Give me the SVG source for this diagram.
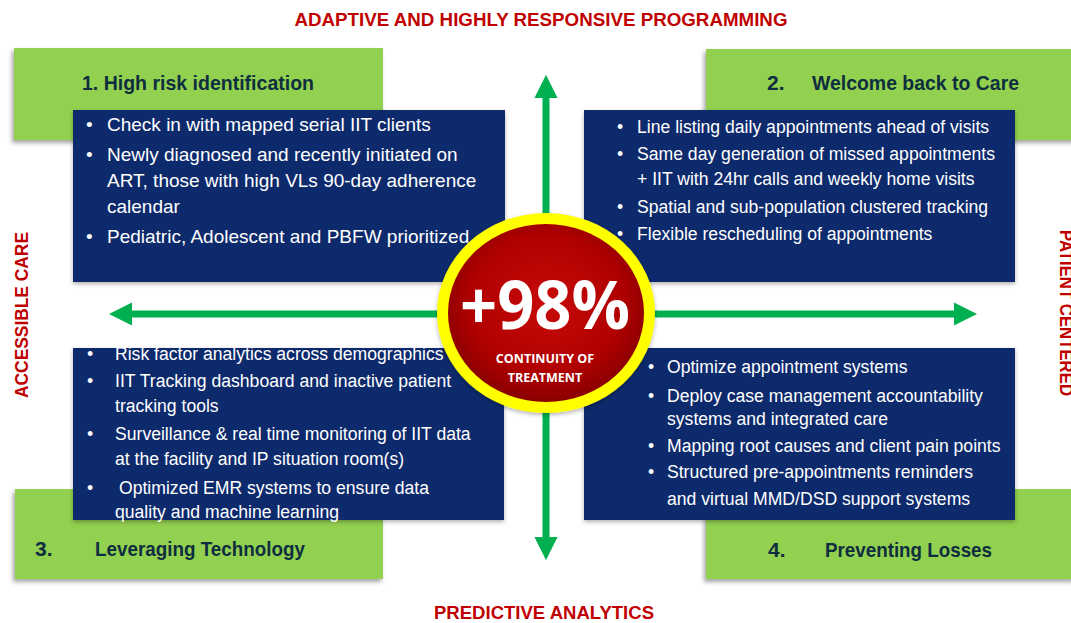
<svg xmlns="http://www.w3.org/2000/svg" width="1071" height="623" viewBox="0 0 1071 623">
  <style>
    .axis { font-family: "Liberation Sans", Arial, sans-serif; font-weight: bold; font-size: 18px; fill: #C00000; }
    .head { font-family: "Liberation Sans", Arial, sans-serif; font-weight: bold; font-size: 21px; fill: #0E2E40; }
    .item { font-family: "Liberation Sans", Arial, sans-serif; font-size: 17.6px; fill: #FFFFFF; }
    .item.lg { font-size: 19px; }
    .green { fill: #92D050; }
    .navy { fill: #0E2A6C; }
    .arrow { stroke: #00B050; stroke-width: 7; fill: none; }
    .big { font-family: "Open Sans", "Liberation Sans", sans-serif; font-weight: bold; font-size: 66px; fill: #FFFFFF; }
    .small { font-family: "Open Sans", "Liberation Sans", sans-serif; font-weight: bold; font-size: 12.5px; fill: #FFFFFF; }
  </style>
  <defs>
    <filter id="shadow" x="-10%" y="-10%" width="120%" height="130%">
      <feDropShadow dx="-2" dy="3" stdDeviation="2" flood-color="#000000" flood-opacity="0.35"/>
    </filter>
    <filter id="soft" x="-10%" y="-10%" width="120%" height="120%">
      <feDropShadow dx="0" dy="2" stdDeviation="2" flood-color="#000000" flood-opacity="0.3"/>
    </filter>
    <radialGradient id="redfill" cx="50%" cy="45%" r="55%">
      <stop offset="0" stop-color="#C80A0A"/>
      <stop offset="0.7" stop-color="#B00000"/>
      <stop offset="1" stop-color="#8A0000"/>
    </radialGradient>
    <marker id="head" viewBox="0 0 10 10" refX="0" refY="5" markerWidth="3.4" markerHeight="3.3" orient="auto" markerUnits="strokeWidth">
      <path d="M0,0 L10,5 L0,10 Z" fill="#00B050"/>
    </marker>
  </defs>

  <rect width="1071" height="623" fill="#FFFFFF"/>

  <!-- axis captions -->
  <text class="axis" x="541" y="26" text-anchor="middle" textLength="493" lengthAdjust="spacingAndGlyphs">ADAPTIVE AND HIGHLY RESPONSIVE PROGRAMMING</text>
  <text class="axis" x="544" y="619" text-anchor="middle" textLength="220" lengthAdjust="spacingAndGlyphs">PREDICTIVE ANALYTICS</text>
  <text class="axis" transform="translate(28,315) rotate(-90)" text-anchor="middle" textLength="166" lengthAdjust="spacingAndGlyphs">ACCESSIBLE CARE</text>
  <text class="axis" transform="translate(1060,313) rotate(90)" text-anchor="middle" textLength="166" lengthAdjust="spacingAndGlyphs">PATIENT CENTERED</text>

  <!-- quadrant 1 -->
  <g id="q1">
    <rect class="green" x="14" y="48" width="369" height="92" filter="url(#shadow)"/>
    <text class="head" x="82" y="90" textLength="232" lengthAdjust="spacingAndGlyphs">1. High risk identification</text>
    <rect class="navy" x="73" y="110" width="432" height="172" filter="url(#soft)"/>
    <g class="item lg">
      <text x="86" y="131">•</text><text x="107" y="131">Check in with mapped serial IIT clients</text>
      <text x="86" y="161">•</text><text x="107" y="161">Newly diagnosed and recently initiated on</text>
      <text x="107" y="187">ART, those with high VLs 90-day adherence</text>
      <text x="107" y="213">calendar</text>
      <text x="86" y="243">•</text><text x="107" y="243">Pediatric, Adolescent and PBFW prioritized</text>
    </g>
  </g>

  <!-- quadrant 2 -->
  <g id="q2">
    <rect class="green" x="706" y="49" width="370" height="91" filter="url(#shadow)"/>
    <text class="head" x="767" y="90">2.</text>
    <text class="head" x="812" y="90" textLength="207" lengthAdjust="spacingAndGlyphs">Welcome back to Care</text>
    <rect class="navy" x="584" y="110" width="431" height="172" filter="url(#soft)"/>
    <g class="item">
      <text x="617" y="133">•</text><text x="637" y="133">Line listing daily appointments ahead of visits</text>
      <text x="617" y="160">•</text><text x="637" y="160">Same day generation of missed appointments</text>
      <text x="637" y="185">+ IIT with 24hr calls and weekly home visits</text>
      <text x="617" y="213">•</text><text x="637" y="213">Spatial and sub-population clustered tracking</text>
      <text x="617" y="240">•</text><text x="637" y="240">Flexible rescheduling of appointments</text>
    </g>
  </g>

  <!-- quadrant 3 -->
  <g id="q3">
    <rect class="green" x="15" y="489" width="368" height="90" filter="url(#shadow)"/>
    <text class="head" x="35" y="556">3.</text>
    <text class="head" x="95" y="556" textLength="210" lengthAdjust="spacingAndGlyphs">Leveraging Technology</text>
    <rect class="navy" x="73" y="348" width="431" height="172" filter="url(#soft)"/>
    <g class="item">
      <text x="87" y="360">•</text><text x="115" y="360">Risk factor analytics across demographics</text>
      <text x="87" y="387">•</text><text x="115" y="387">IIT Tracking dashboard and inactive patient</text>
      <text x="115" y="412">tracking tools</text>
      <text x="87" y="440">•</text><text x="115" y="440">Surveillance &amp; real time monitoring of IIT data</text>
      <text x="115" y="465">at the facility and IP situation room(s)</text>
      <text x="87" y="494">•</text><text x="119" y="494">Optimized EMR systems to ensure data</text>
      <text x="115" y="518">quality and machine learning</text>
    </g>
  </g>

  <!-- quadrant 4 -->
  <g id="q4">
    <rect class="green" x="706" y="489" width="370" height="90" filter="url(#shadow)"/>
    <text class="head" x="768" y="557">4.</text>
    <text class="head" x="825" y="557" textLength="167" lengthAdjust="spacingAndGlyphs">Preventing Losses</text>
    <rect class="navy" x="584" y="348" width="431" height="172" filter="url(#soft)"/>
    <g class="item">
      <text x="648" y="373">•</text><text x="667" y="373">Optimize appointment systems</text>
      <text x="648" y="402">•</text><text x="667" y="402">Deploy case management accountability</text>
      <text x="667" y="425">systems and integrated care</text>
      <text x="648" y="452">•</text><text x="667" y="452">Mapping root causes and client pain points</text>
      <text x="648" y="478">•</text><text x="667" y="478">Structured pre-appointments reminders</text>
      <text x="667" y="505">and virtual MMD/DSD support systems</text>
    </g>
  </g>

  <!-- connectors: four-way arrows -->
  <g id="connectors">
    <line class="arrow" x1="546" y1="314" x2="546" y2="98" marker-end="url(#head)"/>
    <line class="arrow" x1="546" y1="314" x2="546" y2="537" marker-end="url(#head)"/>
    <line class="arrow" x1="546" y1="314" x2="132" y2="314" marker-end="url(#head)"/>
    <line class="arrow" x1="546" y1="314" x2="954" y2="314" marker-end="url(#head)"/>
  </g>

  <!-- central badge -->
  <g id="center">
    <ellipse cx="546" cy="313" rx="109" ry="100" fill="#FFFF00" filter="url(#soft)"/>
    <ellipse cx="546" cy="313" rx="98" ry="89" fill="url(#redfill)"/>
    <text class="big" x="545" y="329" text-anchor="middle" textLength="170" lengthAdjust="spacingAndGlyphs">+98%</text>
    <text class="small" x="545" y="363" text-anchor="middle">CONTINUITY OF</text>
    <text class="small" x="545" y="382" text-anchor="middle">TREATMENT</text>
  </g>
</svg>
